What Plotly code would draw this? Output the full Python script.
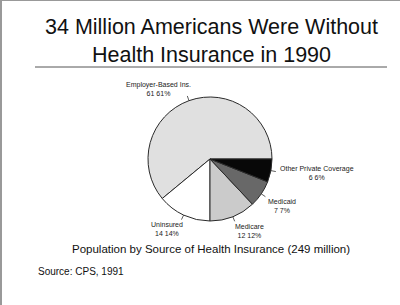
import math
import plotly.graph_objects as go

W, H = 400, 305

categories = ["Employer-Based Ins.", "Uninsured", "Medicare", "Medicaid", "Other Private Coverage"]
values = [61, 14, 12, 7, 6]
colors = ["#e0e0e0", "#ffffff", "#cbcbcb", "#686868", "#080808"]

title_lines = ["34 Million Americans Were Without", "Health Insurance in 1990"]
subtitle = "Population by Source of Health Insurance (249 million)"
source = "Source: CPS, 1991"

# pie geometry (pixels)
cx, cy, R = 210, 159, 62
# label anchor positions (pixels): x, y, xanchor
label_pos = [(158, 89, "center"), (167, 229, "center"), (249, 231, "center"),
             (282, 206, "center"), (278, 173, "left")]

def px(x):
    return x / W

def py(y):
    return 1 - y / H

total = sum(values)
# first slice starts at 3 o'clock and runs counterclockwise
rotation = 90 - 360.0 * values[0] / total

fig = go.Figure(go.Pie(
    labels=categories, values=values, sort=False, direction="counterclockwise",
    rotation=rotation, textinfo="none", hoverinfo="label+value",
    marker=dict(colors=colors, line=dict(color="#2a2a2a", width=1)),
    domain=dict(x=[px(cx - R), px(cx + R)], y=[py(cy + R), py(cy - R)]),
    showlegend=False,
))

shapes = []
annotations = []
start = 0.0
for cat, v, (lx, ly, xa) in zip(categories, values, label_pos):
    frac = v / total
    mid = (start + frac / 2) * 360.0
    start += frac
    a = math.radians(mid)
    x0, y0 = cx + R * math.cos(a), cy - R * math.sin(a)
    x1, y1 = cx + (R + 5) * math.cos(a), cy - (R + 5) * math.sin(a)
    shapes.append(dict(type="line", xref="paper", yref="paper",
                       x0=px(x0), y0=py(y0), x1=px(x1), y1=py(y1),
                       line=dict(color="#333", width=0.8)))
    if xa == "left":
        text = f"{cat}<br>{v} {v}%"
        annotations.append(dict(x=px(lx), y=py(ly), xref="paper", yref="paper",
                                text=text, showarrow=False, xanchor="left", yanchor="middle",
                                align="center",
                                font=dict(family="Liberation Sans", size=7, color="#222")))
    else:
        text = f"{cat}<br>{v} {v}%"
        annotations.append(dict(x=px(lx), y=py(ly), xref="paper", yref="paper",
                                text=text, showarrow=False, xanchor="center", yanchor="middle",
                                align="center",
                                font=dict(family="Liberation Sans", size=7, color="#222")))

annotations.append(dict(x=px(211), y=py(41), xref="paper", yref="paper",
                        text="<br>".join(title_lines), showarrow=False,
                        xanchor="center", yanchor="middle", align="center",
                        font=dict(family="Liberation Sans", size=21.5, color="#111")))
annotations.append(dict(x=px(211), y=py(249), xref="paper", yref="paper",
                        text=subtitle, showarrow=False, xanchor="center", yanchor="middle",
                        font=dict(family="Liberation Sans", size=11.5, color="#111")))
annotations.append(dict(x=px(36), y=py(271), xref="paper", yref="paper",
                        text=source, showarrow=False, xanchor="left", yanchor="middle",
                        font=dict(family="Liberation Sans", size=10, color="#111")))

shapes.append(dict(type="line", xref="paper", yref="paper", x0=px(35), x1=px(387),
                   y0=py(67), y1=py(67), line=dict(color="#555", width=1)))
shapes.append(dict(type="line", xref="paper", yref="paper", x0=px(1), x1=px(1),
                   y0=0, y1=1, line=dict(color="#777", width=1.5)))
shapes.append(dict(type="line", xref="paper", yref="paper", x0=0, x1=1,
                   y0=py(0.5), y1=py(0.5), line=dict(color="#999", width=1)))

fig.update_layout(width=W, height=H, margin=dict(l=0, r=0, t=0, b=0),
                  paper_bgcolor="white", plot_bgcolor="white",
                  shapes=shapes, annotations=annotations)

fig.write_html("out.html")
